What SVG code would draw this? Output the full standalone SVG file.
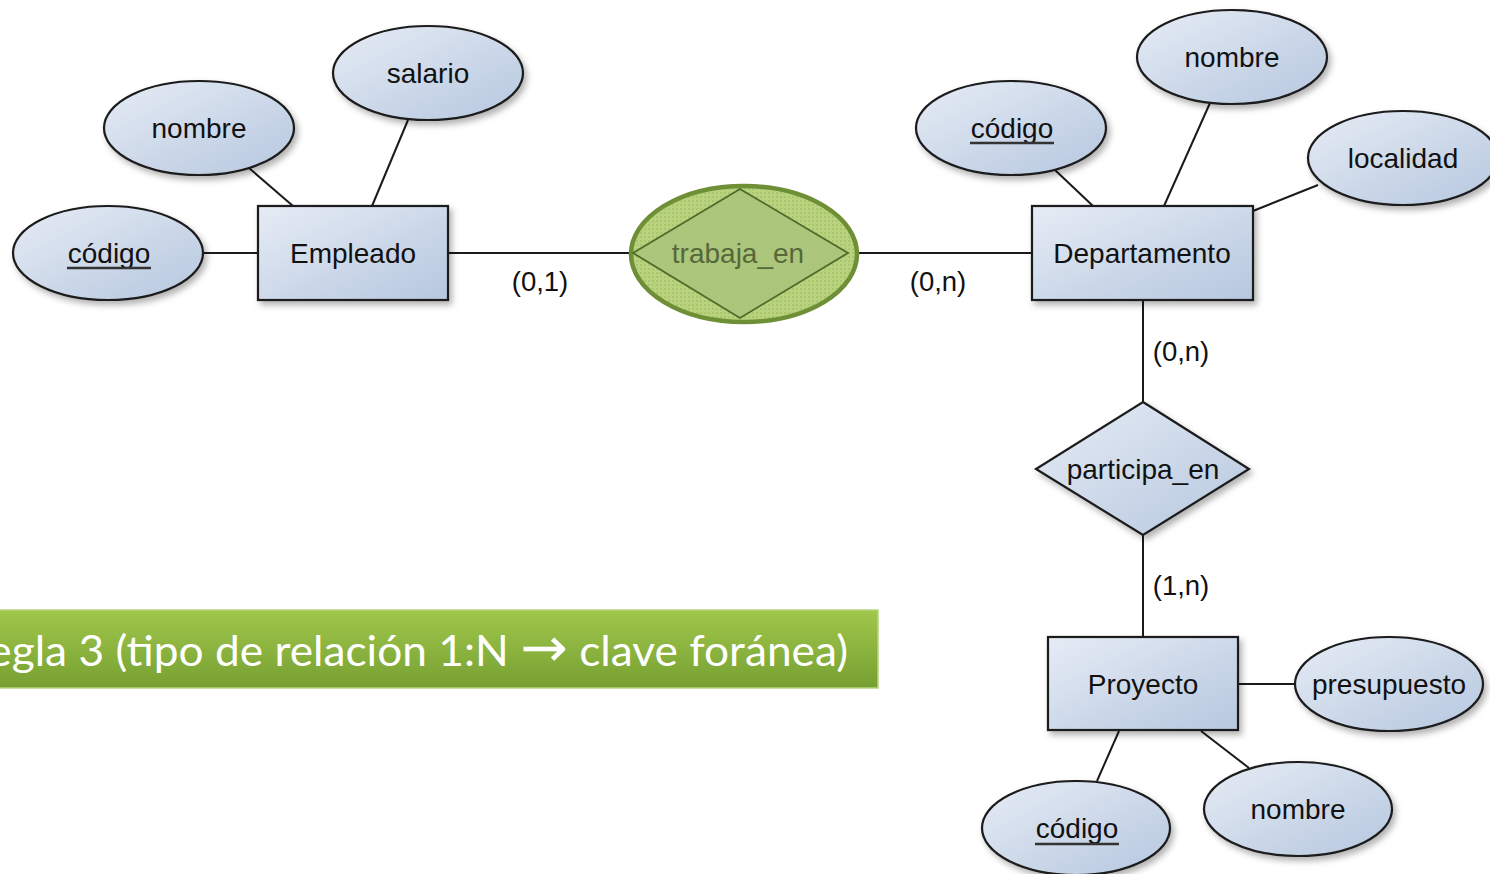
<svg xmlns="http://www.w3.org/2000/svg" width="1490" height="874" viewBox="0 0 1490 874">
  <style>
    .ent { fill: url(#blueFill); stroke: #1a1a1a; stroke-width: 2.2; filter: url(#shadow); }
    .att { fill: url(#blueFill); stroke: #1a1a1a; stroke-width: 2.2; filter: url(#shadow); }
    .rel { fill: url(#blueFill); stroke: #1a1a1a; stroke-width: 2.2; filter: url(#shadow); }
    .lbl { font-family: "Liberation Sans", Arial, sans-serif; font-size: 28px; fill: #111; text-anchor: middle; }
    .card { font-family: "Liberation Sans", Arial, sans-serif; font-size: 27.5px; fill: #111; text-anchor: middle; }
    .key { stroke: #333; stroke-width: 2.5; }
    .conn line { stroke: #1a1a1a; stroke-width: 2; }
  </style>
  <defs>
    <linearGradient id="blueFill" x1="0" y1="0" x2="1" y2="1">
      <stop offset="0" stop-color="#e6ecf5"/>
      <stop offset="1" stop-color="#b6c7df"/>
    </linearGradient>
    <linearGradient id="bannerFill" x1="0" y1="0" x2="0" y2="1">
      <stop offset="0" stop-color="#a1c64b"/>
      <stop offset="1" stop-color="#76a032"/>
    </linearGradient>
    <pattern id="hatch" width="4" height="4" patternUnits="userSpaceOnUse">
      <rect width="4" height="4" fill="#b8d27e"/>
      <rect width="2" height="2" fill="#a9c56e"/>
    </pattern>
    <filter id="shadow" x="-20%" y="-20%" width="150%" height="150%">
      <feDropShadow dx="3" dy="4" stdDeviation="3" flood-color="#000" flood-opacity="0.3"/>
    </filter>
  </defs>

  <!-- connectors -->
  <g id="connectors" class="conn">
    <line x1="203" y1="253" x2="258" y2="253"/>
    <line x1="249" y1="168" x2="293" y2="206"/>
    <line x1="408" y1="120" x2="372" y2="206"/>
    <line x1="447" y1="253" x2="632" y2="253"/>
    <line x1="855" y1="253" x2="1032" y2="253"/>
    <line x1="1055" y1="170" x2="1093" y2="206"/>
    <line x1="1210" y1="103" x2="1164" y2="206"/>
    <line x1="1318" y1="185" x2="1253" y2="211"/>
    <line x1="1143" y1="300" x2="1143" y2="402"/>
    <line x1="1143" y1="535" x2="1143" y2="637"/>
    <line x1="1238" y1="684" x2="1296" y2="684"/>
    <line x1="1119" y1="731" x2="1097" y2="781"/>
    <line x1="1201" y1="731" x2="1249" y2="768"/>
  </g>

  <!-- cardinalities -->
  <g id="cardinalities">
    <text class="card" x="540" y="291">(0,1)</text>
    <text class="card" x="938" y="291">(0,n)</text>
    <text class="card" x="1181" y="361">(0,n)</text>
    <text class="card" x="1181" y="595">(1,n)</text>
  </g>

  <!-- Empleado and attributes -->
  <g id="empleado">
    <rect class="ent" x="258" y="206" width="190" height="94"/>
    <text class="lbl" x="353" y="263">Empleado</text>
  </g>
  <g id="emp-codigo">
    <ellipse class="att" cx="108" cy="253" rx="95" ry="47"/>
    <text class="lbl" x="109" y="263">código</text>
    <line class="key" x1="67" y1="268" x2="151" y2="268"/>
  </g>
  <g id="emp-nombre">
    <ellipse class="att" cx="199" cy="128" rx="95" ry="47"/>
    <text class="lbl" x="199" y="138">nombre</text>
  </g>
  <g id="emp-salario">
    <ellipse class="att" cx="428" cy="73" rx="95" ry="47"/>
    <text class="lbl" x="428" y="83">salario</text>
  </g>

  <!-- trabaja_en (highlighted relationship) -->
  <g id="trabaja_en">
    <ellipse cx="744" cy="254" rx="113" ry="68" fill="url(#hatch)" stroke="#6e8f36" stroke-width="4.5"/>
    <polygon points="740,189 848,253 740,318 633,253" fill="#a9c47c" fill-opacity="0.8" stroke="#4f6b2a" stroke-width="1.8"/>
    <text class="lbl" x="738" y="263" style="fill:#56683a">trabaja_en</text>
  </g>

  <!-- Departamento and attributes -->
  <g id="departamento">
    <rect class="ent" x="1032" y="206" width="221" height="94"/>
    <text class="lbl" x="1142" y="263">Departamento</text>
  </g>
  <g id="dep-codigo">
    <ellipse class="att" cx="1011" cy="128" rx="95" ry="47"/>
    <text class="lbl" x="1012" y="138">código</text>
    <line class="key" x1="970" y1="143" x2="1054" y2="143"/>
  </g>
  <g id="dep-nombre">
    <ellipse class="att" cx="1232" cy="57" rx="95" ry="47"/>
    <text class="lbl" x="1232" y="67">nombre</text>
  </g>
  <g id="dep-localidad">
    <ellipse class="att" cx="1403" cy="158" rx="95" ry="47"/>
    <text class="lbl" x="1403" y="168">localidad</text>
  </g>

  <!-- participa_en -->
  <g id="participa_en">
    <polygon class="rel" points="1143,402 1249,469 1143,535 1036,469"/>
    <text class="lbl" x="1143" y="479">participa_en</text>
  </g>

  <!-- Proyecto and attributes -->
  <g id="proyecto">
    <rect class="ent" x="1048" y="637" width="190" height="93"/>
    <text class="lbl" x="1143" y="694">Proyecto</text>
  </g>
  <g id="pro-presupuesto">
    <ellipse class="att" cx="1389" cy="684" rx="94" ry="47"/>
    <text class="lbl" x="1389" y="694">presupuesto</text>
  </g>
  <g id="pro-codigo">
    <ellipse class="att" cx="1076" cy="828" rx="94" ry="47"/>
    <text class="lbl" x="1077" y="838">código</text>
    <line class="key" x1="1035" y1="844" x2="1119" y2="844"/>
  </g>
  <g id="pro-nombre">
    <ellipse class="att" cx="1298" cy="809" rx="94" ry="47"/>
    <text class="lbl" x="1298" y="819">nombre</text>
  </g>

  <!-- rule banner: the slide title runs off the left edge -->
  <g id="banner">
    <rect x="-2" y="610" width="880" height="78" fill="url(#bannerFill)" stroke="#b9d47e" stroke-width="1.5"/>
    <text x="-38" y="666" textLength="886" lengthAdjust="spacingAndGlyphs" font-family="Lato, 'Open Sans', sans-serif" font-size="42" fill="#ffffff">Regla 3 (tipo de relación 1:N <tspan font-family="'DejaVu Sans', sans-serif" font-size="54">→</tspan> clave foránea)</text>
  </g>
</svg>
